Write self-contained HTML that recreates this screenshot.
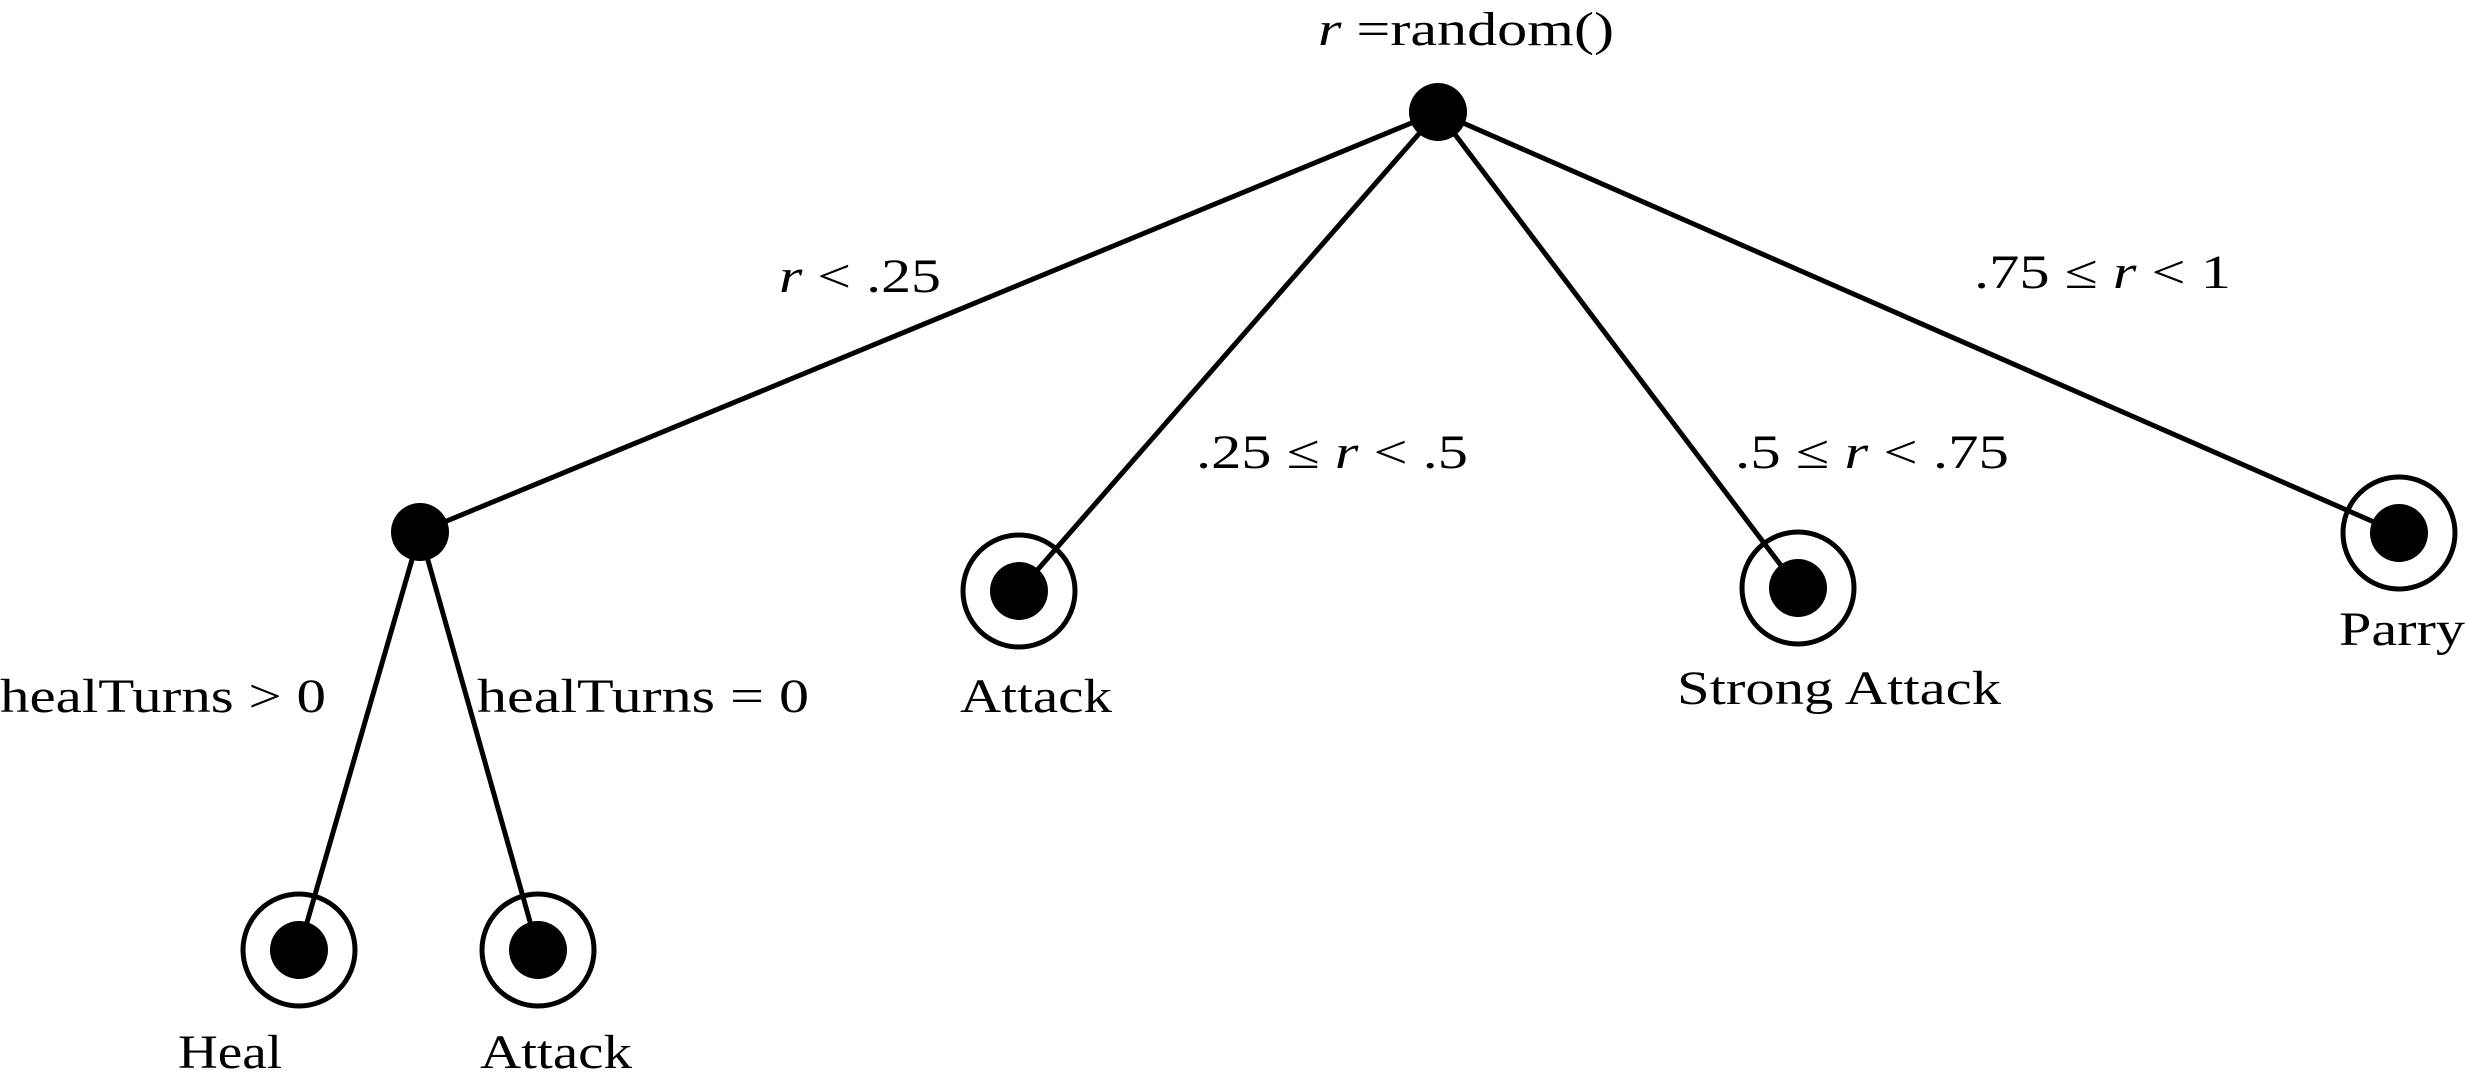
<!DOCTYPE html>
<html><head><meta charset="utf-8"><style>
html,body{margin:0;padding:0;background:#fff;}
svg{display:block;}
text{font-family:"Liberation Serif","DejaVu Serif",serif;font-size:48px;fill:#000;}
</style></head><body>
<svg width="2467" height="1072" viewBox="0 0 2467 1072" xmlns="http://www.w3.org/2000/svg">
<g stroke="#000" stroke-width="5" fill="none">
<line x1="1438" y1="112" x2="420" y2="532"/>
<line x1="1438" y1="112" x2="1019" y2="591"/>
<line x1="1438" y1="112" x2="1798" y2="588"/>
<line x1="1438" y1="112" x2="2399" y2="533"/>
<line x1="420" y1="532" x2="299" y2="950"/>
<line x1="420" y1="532" x2="538" y2="950"/>
<circle cx="1019" cy="591" r="56"/>
<circle cx="1798" cy="588" r="56"/>
<circle cx="2399" cy="533" r="56"/>
<circle cx="299" cy="950" r="56"/>
<circle cx="538" cy="950" r="56"/>
</g>
<g fill="#000">
<circle cx="1438" cy="112" r="29"/>
<circle cx="420" cy="532" r="29"/>
<circle cx="1019" cy="591" r="29"/>
<circle cx="1798" cy="588" r="29"/>
<circle cx="2399" cy="533" r="29"/>
<circle cx="299" cy="950" r="29"/>
<circle cx="538" cy="950" r="29"/>
</g>
<text x="1318" y="45" textLength="296" lengthAdjust="spacingAndGlyphs"><tspan font-style="italic">r</tspan> =random()</text>
<text x="779" y="292" textLength="162" lengthAdjust="spacingAndGlyphs"><tspan font-style="italic">r</tspan> &lt; .25</text>
<text x="1196" y="468" textLength="272" lengthAdjust="spacingAndGlyphs">.25 ≤ <tspan font-style="italic">r</tspan> &lt; .5</text>
<text x="1735" y="468" textLength="274" lengthAdjust="spacingAndGlyphs">.5 ≤ <tspan font-style="italic">r</tspan> &lt; .75</text>
<text x="1974" y="288" textLength="257" lengthAdjust="spacingAndGlyphs">.75 ≤ <tspan font-style="italic">r</tspan> &lt; 1</text>
<text x="0" y="712" textLength="326" lengthAdjust="spacingAndGlyphs">healTurns &gt; 0</text>
<text x="477" y="712" textLength="332" lengthAdjust="spacingAndGlyphs">healTurns = 0</text>
<text x="960" y="712" textLength="152" lengthAdjust="spacingAndGlyphs">Attack</text>
<text x="1677" y="704" textLength="324" lengthAdjust="spacingAndGlyphs">Strong Attack</text>
<text x="2339" y="645" textLength="126" lengthAdjust="spacingAndGlyphs">Parry</text>
<text x="178" y="1068" textLength="104" lengthAdjust="spacingAndGlyphs">Heal</text>
<text x="480" y="1068" textLength="152" lengthAdjust="spacingAndGlyphs">Attack</text>
</svg>
</body></html>
